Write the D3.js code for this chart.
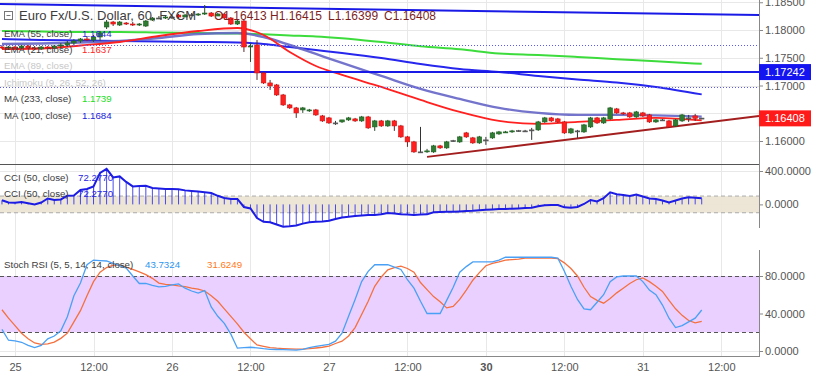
<!DOCTYPE html>
<html><head><meta charset="utf-8">
<script src="https://cdn.jsdelivr.net/npm/d3@7"></script>
<style>body{margin:0;background:#fff}svg{display:block;font-family:"Liberation Sans",Arial,sans-serif}</style>
</head><body><svg id="c" width="816" height="375"></svg>
<script>
// ---------- DATA ----------
const startHour = -2; // first bar index in hours from "25 00:00"
const open = [
1.17694,1.17676,1.17694,1.17676,1.17712,1.17676,1.17658,1.17694,1.17676,1.17712,
1.1773,1.17766,1.17802,1.17838,1.1782,1.17874,1.18054,1.18144,1.1809,1.18126,
1.18108,1.1809,1.18072,1.1818,1.18216,1.18216,1.18234,1.1827,1.18234,1.1827,
1.1827,1.18288,1.18306,1.18252,1.18288,1.18216,1.18108,1.18162,1.17694,1.1773,
1.17226,1.17046,1.1701,1.1683,1.1665,1.16596,1.1656,1.16542,1.1656,1.16452,
1.16416,1.16326,1.16344,1.1638,1.16398,1.16362,1.16434,1.16254,1.16362,1.16272,
1.16362,1.16272,1.16074,1.15984,1.15804,1.15804,1.15804,1.15912,1.15876,1.16002,
1.15984,1.16146,1.16056,1.15966,1.1602,1.16056,1.16128,1.16146,1.16164,1.16182,
1.16182,1.162,1.162,1.16344,1.16416,1.16398,1.16344,1.16146,1.16182,1.16164,
1.16254,1.16416,1.16326,1.16398,1.16578,1.16506,1.16506,1.16434,1.16506,1.1647,
1.16344,1.1638,1.16362,1.16272,1.16362,1.16416,1.16452,1.16413];
const high = [
1.1773,1.17712,1.17712,1.1773,1.1773,1.17712,1.17712,1.17712,1.1773,1.17766,
1.17802,1.17838,1.17856,1.17892,1.1791,1.17982,1.1818,1.18162,1.18162,1.18144,
1.18144,1.18126,1.1818,1.18234,1.18252,1.18252,1.1827,1.18288,1.18288,1.18306,
1.18306,1.1845,1.18324,1.18306,1.18306,1.18234,1.1818,1.1818,1.17766,1.1782,
1.17244,1.171,1.17028,1.16848,1.16668,1.16614,1.16614,1.16578,1.16578,1.1647,
1.16434,1.16362,1.1638,1.16434,1.16416,1.16452,1.16452,1.1638,1.1638,1.1638,
1.1638,1.1629,1.16092,1.16002,1.16254,1.15858,1.1593,1.1593,1.16002,1.1602,
1.16092,1.16164,1.16074,1.16092,1.16074,1.16164,1.16182,1.16182,1.162,1.162,
1.162,1.16236,1.16362,1.16434,1.16434,1.16416,1.16362,1.16236,1.162,1.16308,
1.16434,1.16434,1.16434,1.16614,1.16596,1.16524,1.16524,1.16542,1.16524,1.16488,
1.16398,1.16398,1.1638,1.16398,1.16488,1.1647,1.16488,1.16415];
const low = [
1.17658,1.1764,1.17658,1.17658,1.17658,1.1764,1.1764,1.17658,1.17658,1.17676,
1.17694,1.1773,1.17766,1.17802,1.17784,1.17802,1.18018,1.18072,1.18072,1.1809,
1.18072,1.18072,1.18054,1.18162,1.18198,1.18198,1.18198,1.18216,1.18234,1.18252,
1.18252,1.1827,1.18234,1.18252,1.18198,1.1809,1.1809,1.17604,1.17424,1.171,
1.17028,1.1692,1.16812,1.16632,1.16578,1.16416,1.16506,1.16524,1.16452,1.16344,
1.16308,1.1629,1.16326,1.16362,1.16344,1.16344,1.16218,1.16182,1.16254,1.16254,
1.16182,1.16056,1.15894,1.15786,1.15786,1.15786,1.15786,1.15858,1.15858,1.15984,
1.15966,1.16056,1.15948,1.15948,1.1593,1.16038,1.1611,1.16146,1.16146,1.16164,
1.16164,1.1602,1.16182,1.16326,1.16344,1.16326,1.16128,1.16128,1.16056,1.16146,
1.16236,1.16308,1.16308,1.1638,1.16488,1.1647,1.16416,1.16416,1.16434,1.16326,
1.16326,1.16362,1.16236,1.16254,1.16344,1.16344,1.16362,1.16399];
const close = [
1.17676,1.17694,1.17676,1.17712,1.17676,1.17658,1.17694,1.17676,1.17712,1.1773,
1.17766,1.17802,1.17838,1.1782,1.17874,1.17946,1.18144,1.18108,1.18144,1.18108,
1.1809,1.18108,1.18162,1.18216,1.18212,1.18234,1.1823,1.18234,1.1827,1.18274,
1.18288,1.18306,1.18252,1.18288,1.18216,1.18108,1.18162,1.17694,1.17712,1.17226,
1.17046,1.16992,1.1683,1.1665,1.16596,1.16506,1.16596,1.1656,1.1647,1.16362,
1.16326,1.16322,1.1638,1.16416,1.16362,1.16434,1.16236,1.16362,1.16272,1.16362,
1.16272,1.16074,1.15984,1.15804,1.158,1.15822,1.15912,1.15876,1.15984,1.16006,
1.16074,1.16074,1.15966,1.16074,1.16016,1.16146,1.16164,1.16164,1.16182,1.16186,
1.16178,1.16196,1.16344,1.16416,1.16362,1.16344,1.16146,1.16218,1.16178,1.1629,
1.16416,1.16326,1.16416,1.16596,1.16506,1.16488,1.16434,1.16524,1.16452,1.16344,
1.1638,1.16376,1.16254,1.1638,1.1647,1.16412,1.16408,1.16408];

// moving averages, read at these bar hours
const maHours = [-2,4,10,16,22,28,34,38,42,46,50,56,62,68,74,80,86,92,98,105];
const ema21  = [1.17658,1.17667,1.17721,1.17784,1.17892,1.17982,1.18036,1.1791,1.17604,1.17352,1.1719,1.16974,1.1674,1.16524,1.16362,1.16308,1.16344,1.1638,1.16416,1.1637];
const ema55  = [1.17748,1.17757,1.17775,1.17802,1.17856,1.17928,1.17946,1.17874,1.1773,1.17568,1.17406,1.17172,1.16938,1.16758,1.16596,1.16506,1.1647,1.1647,1.16461,1.1644];
const ma100  = [1.17838,1.1782,1.17811,1.17802,1.17793,1.17784,1.17775,1.17748,1.17694,1.1764,1.17586,1.17496,1.17388,1.17298,1.17244,1.17172,1.17109,1.17055,1.16974,1.1684];
const ma233  = [1.17982,1.17973,1.17964,1.17964,1.17955,1.17946,1.17937,1.17923,1.17903,1.17885,1.17852,1.17784,1.17708,1.17654,1.17577,1.1755,1.17514,1.17473,1.17437,1.1739];

// drawn objects
const topTrendHours = [-2.3, 113.76], topTrendPrices = [1.18468, 1.1827];
const supportHours = [63, 113.76], supportPrices = [1.15714, 1.16452];
const levelPrice = 1.17242;
const dottedLevels = [1.1773, 1.16969];

// CCI (50)
const cci = [49,24,19,29,13,-2,23,71,53,59,104,107,173,185,215,377,425,323,335,269,
215,221,223,197,191,185,185,181,168,161,155,146,137,103,77,65,65,-31,-49,-163,
-208,-215,-241,-268,-263,-253,-230,-214,-209,-204,-196,-175,-158,-149,-139,-133,-127,-127,-118,-103,
-110,-119,-122,-127,-122,-119,-95,-92,-89,-88,-84,-80,-76,-70,-65,-60,-56,-54,-52,-48,
-44,-41,-23,-10,-7,-7,-35,-41,-31,5,53,36,74,145,122,113,101,119,94,70,
65,47,24,47,71,85,79,72.277];

// Stoch RSI
const stochK = [23,11.5,10.7,9.3,6,3.7,6,13,16,21.5,
36.6,59,72.5,92,97,96.5,96,93.5,91,88.5,
80,72,72,70,68.5,69,70.5,71.5,67,64,
61.8,64.5,47,37,29.5,18,3,3.5,4,3.4,
2.5,1.8,1.6,1.4,1.2,1,1.8,3.7,5,6,
7,10.5,19,37,55,74,85,92,92,92,
89.5,87,76,67,53,40,40,40,54,68,
84,90,95,95,95,95,97,100,100,100,
100,100,100,100,100,99,85,69,55,45,
44,52,60,74,79,80,80,80,74,65,
60,49,35,25,27,31,35,43.7324];
const stochD = [44,35,27,19,13,8.6,7,7.5,9.5,13.5,
19,31,43,59,74,84,89,91.5,91.5,89.5,
87,84.5,81.5,77.5,72.5,71,70.5,69.5,68.7,67,
66,64,59,53,45,37,29,20,13,6.4,
5,3.7,3,2.6,2.3,2,2.1,2.5,3.2,4,
5.3,8,10.5,16,25,39,53,69,79,86.5,
89,90.5,88,84,73,65.5,58,52.5,46,47.5,
55,65,75.5,83.6,91,93.5,95,97,97.5,98,
99,99,99,99,99,98.5,94,88,80,68,
58,54,51,56,62,67,72,76,78,74,
69,63.5,54,45,38,32.5,30,31.6249];

// axis ticks
const timeTickHours = [0,12,24,36,48,60,72,84,96,108];
const timeTickLabels = ["25","12:00","26","12:00","27","12:00","30","12:00","31","12:00"];
const priceGrid = [1.185,1.18,1.175,1.17,1.165,1.16];
const priceTicks = [1.185,1.18,1.175,1.17,1.16];
const cciTicks = [400,0];
const rsiTicks = [80,40,0];

// legend texts
const titleText = "Euro Fx/U.S. Dollar, 60, FXCM";
const ohlcLabels = ["O1.16413","H1.16415","L1.16399","C1.16408"];
const mainLegend = [["EMA (55, close)","1.1644"],["EMA (21, close)","1.1637"],["EMA (89, close)",""],["Ichimoku (9, 26, 52, 26)",""],["MA (233, close)","1.1739"],["MA (100, close)","1.1684"]];
const cciLegend = [["CCI (50, close)","72.2770"],["CCI (50, close)","72.2770"]];
const rsiLegend = ["Stoch RSI (5, 5, 14, 14, close)","43.7324","31.6249"];

// ---------- DRAW ----------
const svg = d3.select("#c");
const R = 759;
const bars = open.map((o,i)=>({h:startHour+i,o,h2:high[i],l:low[i],c:close[i]}));
const x = d3.scaleLinear().domain([-2.3,113.76]).range([0,R]);
const yP = d3.scaleLinear().domain([1.16,1.18]).range([141,30]);
const yC = d3.scaleLinear().domain([0,400]).range([204.4,171]);
const yR = d3.scaleLinear().domain([0,80]).range([351,276]);

const defs = svg.append("defs");
defs.append("clipPath").attr("id","cm").append("rect").attr("x",0).attr("y",0).attr("width",R).attr("height",164);
defs.append("clipPath").attr("id","cc").append("rect").attr("x",0).attr("y",164).attr("width",R).attr("height",66);
defs.append("clipPath").attr("id","cr").append("rect").attr("x",0).attr("y",250).attr("width",R).attr("height",107);

// grid
const grid = svg.append("g").attr("stroke","#e8e8e8").attr("stroke-width",1);
timeTickHours.forEach(h=>grid.append("line").attr("x1",Math.round(x(h))+0.5).attr("x2",Math.round(x(h))+0.5).attr("y1",0).attr("y2",357));
priceGrid.forEach(p=>grid.append("line").attr("x1",0).attr("x2",R).attr("y1",Math.round(yP(p))+0.5).attr("y2",Math.round(yP(p))+0.5));
cciTicks.forEach(v=>grid.append("line").attr("x1",0).attr("x2",R).attr("y1",Math.round(yC(v))+0.5).attr("y2",Math.round(yC(v))+0.5));
rsiTicks.forEach(v=>grid.append("line").attr("x1",0).attr("x2",R).attr("y1",Math.round(yR(v))+0.5).attr("y2",Math.round(yR(v))+0.5));

// ---- main pane
const gm = svg.append("g").attr("clip-path","url(#cm)");
const lineMA = vals => d3.line().x((d,i)=>x(maHours[i])).y(d=>yP(d)).curve(d3.curveMonotoneX)(vals);
gm.append("path").attr("d",lineMA(ma233)).attr("fill","none").attr("stroke","#3ddc3d").attr("stroke-width",2);
gm.append("path").attr("d",lineMA(ma100)).attr("fill","none").attr("stroke","#2626ee").attr("stroke-width",2);
gm.append("path").attr("d",lineMA(ema55)).attr("fill","none").attr("stroke","#6565c6").attr("stroke-width",2.4).attr("opacity",0.9);
gm.append("path").attr("d",lineMA(ema21)).attr("fill","none").attr("stroke","#ff2020").attr("stroke-width",1.8);

// drawings
gm.append("line").attr("x1",x(topTrendHours[0])).attr("x2",x(topTrendHours[1])).attr("y1",yP(topTrendPrices[0])).attr("y2",yP(topTrendPrices[1])).attr("stroke","#1a1ae6").attr("stroke-width",2);
gm.append("line").attr("x1",0).attr("x2",R).attr("y1",yP(levelPrice)).attr("y2",yP(levelPrice)).attr("stroke","#1a1ae6").attr("stroke-width",2);
dottedLevels.forEach(p=>gm.append("line").attr("x1",0).attr("x2",R).attr("y1",Math.round(yP(p))+0.5).attr("y2",Math.round(yP(p))+0.5).attr("stroke","#5a5af0").attr("stroke-width",1).attr("stroke-dasharray","1,2"));
gm.append("line").attr("x1",x(supportHours[0])).attr("x2",x(supportHours[1])).attr("y1",yP(supportPrices[0])).attr("y2",yP(supportPrices[1])).attr("stroke","#a31e1e").attr("stroke-width",2);

// candles
const cg = gm.append("g");
bars.forEach(b=>{
  const cx = x(b.h);
  const up = b.c > b.o, flat = Math.abs(b.c-b.o) < 0.00006;
  const col = flat ? "#555" : (up ? "#2f7d32" : "#ff1f1f");
  cg.append("line").attr("x1",cx).attr("x2",cx).attr("y1",yP(b.h2)).attr("y2",yP(b.l)).attr("stroke", flat?"#333":(up?"#2a4a2a":"#5a2a2a")).attr("stroke-width",1);
  const top = yP(Math.max(b.o,b.c)), bot = yP(Math.min(b.o,b.c));
  cg.append("rect").attr("x",cx-2.3).attr("width",4.6).attr("y",top).attr("height",Math.max(1,bot-top))
    .attr("fill",col).attr("stroke",flat?"#555":(up?"#1e5e20":"#d01010")).attr("stroke-width",0.6);
});

// ---- CCI pane
svg.append("rect").attr("x",0).attr("width",R).attr("y",yC(100)).attr("height",yC(-100)-yC(100)).attr("fill","rgb(236,228,211)").attr("opacity",0.92);
[100,-100].forEach(v=>svg.append("line").attr("x1",0).attr("x2",R).attr("y1",yC(v)).attr("y2",yC(v)).attr("stroke","#aaa").attr("stroke-dasharray","4,3"));
const gc = svg.append("g").attr("clip-path","url(#cc)");
bars.forEach((b,i)=>gc.append("line").attr("x1",x(b.h)).attr("x2",x(b.h)).attr("y1",yC(0)).attr("y2",yC(cci[i])).attr("stroke","#2020ee").attr("stroke-width",1).attr("opacity",0.8));
gc.append("path").attr("d",d3.line().x((d,i)=>x(bars[i].h)).y(d=>yC(d))(cci)).attr("fill","none").attr("stroke","#1c1ce4").attr("stroke-width",2);

// ---- Stoch RSI pane
svg.append("rect").attr("x",0).attr("width",R).attr("y",yR(80)).attr("height",yR(20)-yR(80)).attr("fill","rgb(233,208,255)");
[80,20].forEach(v=>svg.append("line").attr("x1",0).attr("x2",R).attr("y1",Math.round(yR(v))+0.5).attr("y2",Math.round(yR(v))+0.5).attr("stroke","#555").attr("stroke-dasharray","4,3"));
const gr = svg.append("g").attr("clip-path","url(#cr)");
const lineR = d3.line().x((d,i)=>x(bars[i].h)).y(d=>yR(d));
gr.append("path").attr("d",lineR(stochD)).attr("fill","none").attr("stroke","#f5703f").attr("stroke-width",1.3);
gr.append("path").attr("d",lineR(stochK)).attr("fill","none").attr("stroke","#4aa0f5").attr("stroke-width",1.3);

// separators & axes lines
svg.append("line").attr("x1",0).attr("x2",R).attr("y1",164.5).attr("y2",164.5).attr("stroke","#555");
svg.append("line").attr("x1",0).attr("x2",R).attr("y1",356.5).attr("y2",356.5).attr("stroke","#888");
svg.append("line").attr("x1",R+0.5).attr("x2",R+0.5).attr("y1",0).attr("y2",228).attr("stroke","#888");
svg.append("line").attr("x1",R+0.5).attr("x2",R+0.5).attr("y1",250).attr("y2",357).attr("stroke","#888");

function styleAxis(g){
  g.select(".domain").remove();
  g.selectAll("line").attr("stroke","#888");
  g.selectAll("text").attr("fill","#555").attr("font-size",11).attr("font-family","Liberation Sans, Arial, sans-serif");
}
svg.append("g").attr("transform",`translate(${R},0)`).call(d3.axisRight(yP).tickValues(priceTicks).tickFormat(d3.format(".5f")).tickSize(4).tickPadding(2)).call(styleAxis);
svg.append("g").attr("transform",`translate(${R},0)`).call(d3.axisRight(yC).tickValues(cciTicks).tickFormat(d3.format(".4f")).tickSize(4).tickPadding(2)).call(styleAxis);
svg.append("g").attr("transform",`translate(${R},0)`).call(d3.axisRight(yR).tickValues(rsiTicks).tickFormat(d3.format(".4f")).tickSize(4).tickPadding(2)).call(styleAxis);
const xa = svg.append("g").attr("transform","translate(0,357)").call(d3.axisBottom(x).tickValues(timeTickHours).tickFormat((d,i)=>timeTickLabels[i]).tickSize(0).tickPadding(6)).call(styleAxis);
xa.selectAll("text").filter((d,i)=>timeTickLabels[i]==="30").attr("font-weight","bold");

// price label boxes
function priceBox(p,fill,label){
  const yy = yP(p);
  svg.append("rect").attr("x",R).attr("y",yy-8).attr("width",52).attr("height",16).attr("fill",fill);
  svg.append("text").attr("x",R+6).attr("y",yy+4).attr("fill","#fff").attr("font-size",11).text(label);
}
priceBox(levelPrice,"#1414f0",d3.format(".5f")(levelPrice));
priceBox(close[close.length-1],"#ff1a1a",d3.format(".5f")(close[close.length-1]));

// ---- legends
const icon = svg.append("g");
icon.append("rect").attr("x",4.5).attr("y",11.5).attr("width",8).attr("height",8).attr("fill","none").attr("stroke","#777");
icon.append("line").attr("x1",6.5).attr("x2",10.5).attr("y1",15.5).attr("y2",15.5).attr("stroke","#777");
svg.append("text").attr("x",19).attr("y",20).attr("font-size",13).attr("fill","#3d3d3d").text(titleText);
[214,270,328,384].forEach((xx,i)=>svg.append("text").attr("x",xx).attr("y",20).attr("font-size",12).attr("fill","#7d1f1f").text(ohlcLabels[i]));

const mainColors = ["#2a2ad8","#ff2424",null,null,"#22dd22","#2222dd"];
mainLegend.forEach((d,i)=>{
  const yy = 36.5 + i*16.4;
  const faded = !d[1];
  svg.append("text").attr("x",4).attr("y",yy).attr("font-size",9.7).attr("fill",faded?"#c8c8c8":"#3d3d3d").text(d[0]);
  if(d[1]) svg.append("text").attr("x",82).attr("y",yy).attr("font-size",9.7).attr("fill",mainColors[i]).text(d[1]);
});
cciLegend.forEach((d,i)=>{
  const yy = 180.5 + i*16.5;
  svg.append("text").attr("x",4).attr("y",yy).attr("font-size",9.7).attr("fill","#3d3d3d").text(d[0]);
  svg.append("text").attr("x",78).attr("y",yy).attr("font-size",9.7).attr("fill","#2626e0").text(d[1]);
});
svg.append("text").attr("x",4).attr("y",267.5).attr("font-size",9.7).attr("fill","#3d3d3d").text(rsiLegend[0]);
svg.append("text").attr("x",145).attr("y",267.5).attr("font-size",9.7).attr("fill","#2e96f0").text(rsiLegend[1]);
svg.append("text").attr("x",207).attr("y",267.5).attr("font-size",9.7).attr("fill","#ff7a1a").text(rsiLegend[2]);
</script></body></html>
